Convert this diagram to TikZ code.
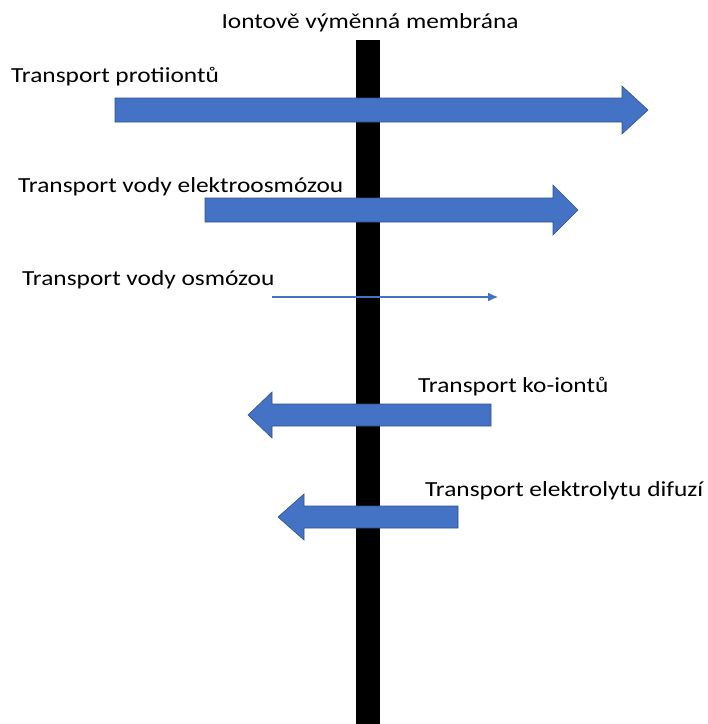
\documentclass[tikz,border=0pt]{standalone}
\usepackage{fontspec}
\setmainfont[FakeStretch=1.18]{Carlito}
\usetikzlibrary{arrows.meta}
\definecolor{arrblue}{HTML}{4472C4}
\definecolor{arredge}{HTML}{2F528F}
\begin{document}
\begin{tikzpicture}[x=1pt,y=-1pt,
  lbl/.style={font=\fontsize{21.5}{24}\selectfont, inner sep=0pt, text=black},
  blk/.style={fill=arrblue, draw=arredge, line width=0.6pt, line join=miter}]
\useasboundingbox (0,0) rectangle (708,724);
% membrane
\fill[black] (356,40) rectangle (380,724);
\node[lbl, anchor=base] (title) at (370,28) {Iontově výměnná membrána};
% arrow 1
\node[lbl, anchor=base west] (t1) at (11,82) {Transport protiiontů};
\path[blk] (115,98) -- (622,98) -- (622,86) -- (648,110) -- (622,134) -- (622,122) -- (115,122) -- cycle;
% arrow 2
\node[lbl, anchor=base west] (t2) at (18,192) {Transport vody elektroosmózou};
\path[blk] (205,198) -- (553,198) -- (553,185) -- (578,210) -- (553,235) -- (553,222) -- (205,222) -- cycle;
% arrow 3
\node[lbl, anchor=base west] (t3) at (22,285) {Transport vody osmózou};
\coordinate (a3s) at (272,297);
\coordinate (a3e) at (498,297);
\draw[arrblue, line width=1.2pt, -{Latex[length=10pt,width=9pt]}] (a3s) -- (a3e);
% arrow 4
\node[lbl, anchor=base west] (t4) at (418,392) {Transport ko-iontů};
\path[blk] (491,404) -- (272,404) -- (272,392) -- (248,415) -- (272,438) -- (272,426) -- (491,426) -- cycle;
% arrow 5
\node[lbl, anchor=base west] (t5) at (425,496) {Transport elektrolytu difuzí};
\path[blk] (458,506) -- (304,506) -- (304,494) -- (278,517) -- (304,540) -- (304,528) -- (458,528) -- cycle;
\end{tikzpicture}
\end{document}
